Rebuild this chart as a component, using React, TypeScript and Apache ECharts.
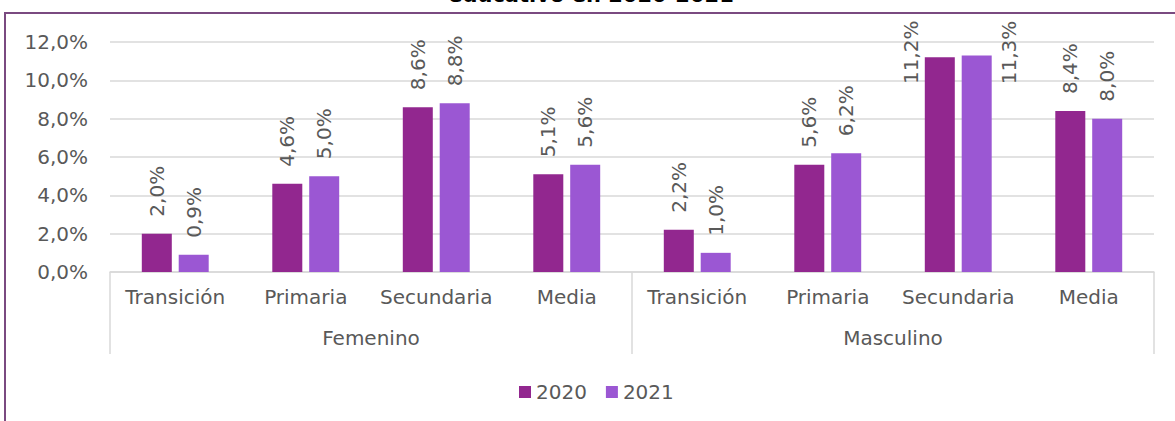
import React, { useEffect, useRef } from "react";
import * as echarts from "echarts";

const categories = ["Transición", "Primaria", "Secundaria", "Media", "Transición", "Primaria", "Secundaria", "Media"];
const groups = ["Femenino", "Masculino"];
const legendNames = ["2020", "2021"];
const values2020 = [2.0, 4.6, 8.6, 5.1, 2.2, 5.6, 11.2, 8.4];
const values2021 = [0.9, 5.0, 8.8, 5.6, 1.0, 6.2, 11.3, 8.0];
const titleText = "educativo en 2020-2021";

const FONT = "DejaVu Sans";
const TXT = "#595959";
const GRID = "#d9d9d9";
const C2020 = "#92278F";
const C2021 = "#9B57D3";
const FS = 20;

const fmt = (v: number) => v.toFixed(1).replace(".", ",") + "%";

// Labels that Excel moved beside the bar because they would leave the plot area
const sideLabels2020: Record<number, any> = {
  6: { position: [-14, -5], align: "center", verticalAlign: "middle" },
};
const sideLabels2021: Record<number, any> = {
  6: { position: [47, -3], align: "center", verticalAlign: "middle" },
};

const baseLabel = {
  show: true,
  position: "top",
  distance: 17,
  rotate: 90,
  align: "left",
  verticalAlign: "middle",
  fontFamily: FONT,
  fontSize: FS,
  color: TXT,
  formatter: (p: any) => fmt(p.value),
};

const buildData = (vals: number[], side: Record<number, any>) =>
  vals.map((v, i) => (side[i] ? { value: v, label: side[i] } : v));

export default function App() {
  const ref = useRef<HTMLDivElement>(null);
  useEffect(() => {
    if (!ref.current) return;
    const chart = echarts.init(ref.current, null, { renderer: "svg" });
    chart.setOption({
      animation: false,
      backgroundColor: "#ffffff",
      textStyle: { fontFamily: FONT },
      grid: { left: 110, right: 21, top: 42, bottom: 149, containLabel: false },
      legend: {
        data: legendNames,
        left: 514,
        top: 377,
        itemWidth: 12,
        itemHeight: 12,
        itemGap: 19,
        icon: "rect",
        textStyle: { fontFamily: FONT, fontSize: FS, color: TXT },
      },
      xAxis: [
        {
          type: "category",
          data: categories,
          position: "bottom",
          axisLine: { show: true, lineStyle: { color: GRID, width: 1.5 } },
          axisTick: { show: false },
          axisLabel: { interval: 0, margin: 15, fontFamily: FONT, fontSize: FS, color: TXT },
          splitLine: { show: false },
        },
        {
          type: "category",
          data: groups,
          position: "bottom",
          axisLine: { show: false },
          axisTick: { show: true, length: 82, interval: 0, lineStyle: { color: GRID, width: 1.5 } },
          axisLabel: { interval: 0, margin: 56, fontFamily: FONT, fontSize: FS, color: TXT },
          splitLine: { show: false },
        },
      ],
      yAxis: {
        type: "value",
        min: 0,
        max: 12,
        interval: 2,
        axisLine: { show: false },
        axisTick: { show: false },
        splitLine: { lineStyle: { color: GRID, width: 1.5 } },
        axisLabel: { margin: 22, fontFamily: FONT, fontSize: FS, color: TXT, formatter: (v: number) => fmt(v) },
      },
      series: [
        {
          name: legendNames[0],
          type: "bar",
          xAxisIndex: 0,
          barWidth: 30,
          barGap: "23%",
          itemStyle: { color: C2020 },
          label: baseLabel,
          data: buildData(values2020, sideLabels2020),
        },
        {
          name: legendNames[1],
          type: "bar",
          xAxisIndex: 0,
          barWidth: 30,
          barGap: "23%",
          itemStyle: { color: C2021 },
          label: baseLabel,
          data: buildData(values2021, sideLabels2021),
        },
      ],
      graphic: [
        {
          type: "rect",
          silent: true,
          shape: { x: 5, y: 13, width: 1300, height: 600 },
          style: { fill: "none", stroke: "#7a4a80", lineWidth: 2 },
        },
        {
          type: "text",
          silent: true,
          x: 591,
          y: -5,
          style: {
            text: titleText,
            fontFamily: FONT,
            fontSize: 21,
            fontWeight: "bold",
            fill: "#000000",
            textAlign: "center",
            textVerticalAlign: "middle",
          },
        },
      ],
    });
    return () => chart.dispose();
  }, []);
  return (
    <div
      ref={ref}
      style={{ position: "fixed", left: 0, top: 0, width: 1175, height: 421, background: "#fff" }}
    />
  );
}
